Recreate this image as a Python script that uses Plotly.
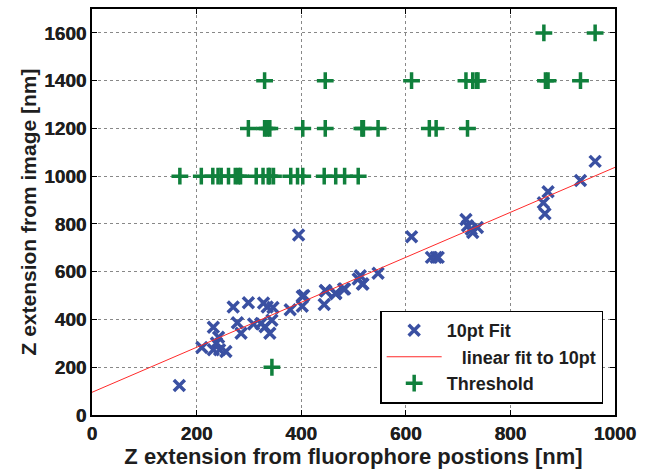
import plotly.graph_objects as go

# 10pt Fit (blue x)
fit10_x = [962, 934, 872, 863, 866, 715, 718, 728, 737, 725, 395, 611, 649, 658, 662,
           547, 513, 518, 509, 483, 466, 446, 405,
           167, 210, 232, 238, 232, 244, 256, 242, 270, 299, 278, 285, 309, 323, 328,
           335, 346, 331, 340, 344, 379, 402, 402, 444, 447, 466, 481, 517]
fit10_y = [1062, 982, 935, 889, 843, 819, 792, 764, 785, 778, 754, 746, 660, 660, 660,
           594, 583, 549, 569, 528, 510, 521, 500,
           124, 283, 367, 301, 273, 273, 266, 326, 452, 470, 386, 342, 381, 383, 469,
           452, 450, 370, 342, 397, 441, 497, 455, 463, 519, 508, 528, 549]

# linear fit to 10pt (endpoints)
line_x = [0, 1000]
line_y = [95, 1037]

# Threshold (green +)
thr_x = [864, 962,
         330, 446, 611, 715, 728, 735, 738, 867, 872, 934,
         299, 330, 335, 340, 403, 446, 516, 519, 547, 645, 658, 718,
         168, 209, 231, 241, 247, 261, 274, 280, 284, 314, 327, 337, 340, 347, 380, 393,
         403, 444, 466, 483, 509,
         344]
thr_y = [1600, 1600,
         1400, 1400, 1400, 1400, 1400, 1400, 1400, 1400, 1400, 1400,
         1200, 1200, 1200, 1200, 1200, 1200, 1200, 1200, 1200, 1200, 1200, 1200,
         1000, 1000, 1000, 1000, 1000, 1000, 1000, 1000, 1000, 1000, 1000, 1000, 1000,
         1000, 1000, 1000, 1000, 1000, 1000, 1000, 1000,
         200]

x_ticks = [0, 200, 400, 600, 800, 1000]
y_ticks = [0, 200, 400, 600, 800, 1000, 1200, 1400, 1600]

BLUE = "#3a50a2"
GREEN = "#10803c"
RED = "#ff2a2a"
FONT = "Liberation Sans"
TXT = "#1e1e1e"

fig = go.Figure()
fig.add_trace(go.Scatter(x=fit10_x, y=fit10_y, mode="markers", name="<b>10pt Fit</b>",
                         marker=dict(symbol="x-thin", size=11,
                                     line=dict(width=3.5, color=BLUE), color=BLUE)))
fig.add_trace(go.Scatter(x=line_x, y=line_y, mode="lines",
                         name="<b>\u00a0\u00a0\u00a0linear fit to 10pt</b>",
                         line=dict(color=RED, width=1)))
fig.add_trace(go.Scatter(x=thr_x, y=thr_y, mode="markers", name="<b>Threshold</b>",
                         marker=dict(symbol="cross-thin", size=12,
                                     line=dict(width=3.5, color=GREEN), color=GREEN)))

axis_common = dict(
    showline=True, linecolor="black", linewidth=1.5, mirror="ticks",
    ticks="inside", ticklen=5, tickcolor="black",
    showgrid=True, gridcolor="#888888", griddash="dot", gridwidth=1,
    zeroline=False,
    tickfont=dict(family=FONT, size=19, color=TXT, weight="bold",
                  shadow="0.35px 0 0 #1e1e1e"),
)

fig.update_xaxes(range=[0, 1000], tickvals=x_ticks,
                 ticktext=[str(v) for v in x_ticks],
                 title=dict(text="<b>Z extension from fluorophore postions [nm]</b>",
                            font=dict(family=FONT, size=22, color=TXT),
                            standoff=0),
                 **axis_common)
fig.update_yaxes(range=[0, 1700], tickvals=y_ticks,
                 ticktext=[str(v) for v in y_ticks],
                 title=dict(text="<b>Z extension from image [nm]</b>",
                            font=dict(family=FONT, size=21, color=TXT),
                            standoff=2),
                 **axis_common)

fig.update_layout(
    width=650, height=470,
    margin=dict(l=92, r=35, t=7, b=55),
    paper_bgcolor="white", plot_bgcolor="white",
    font=dict(family=FONT, color=TXT),
    legend=dict(x=0.551, y=0.257, xanchor="left", yanchor="top",
                bgcolor="white", bordercolor="black", borderwidth=1.5,
                font=dict(family=FONT, size=18, color=TXT),
                itemwidth=55, tracegroupgap=0),
    showlegend=True,
)

fig.write_html("out.html")
